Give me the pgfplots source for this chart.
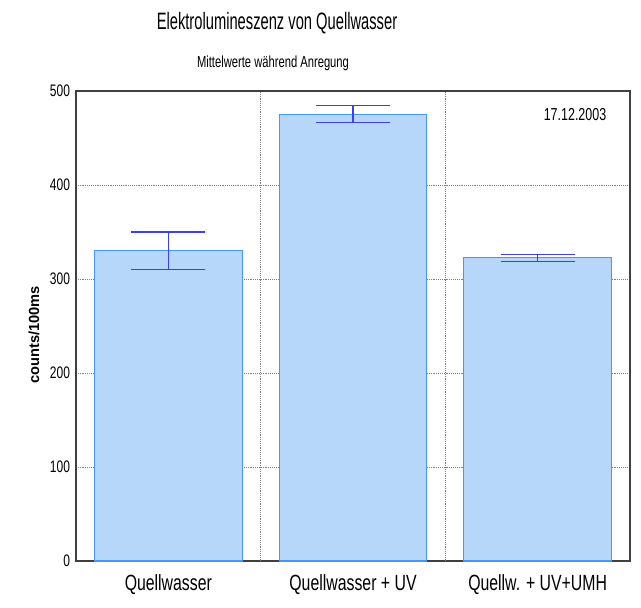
\documentclass[border=0pt]{standalone}
\usepackage{fontspec}
\setmainfont[FakeStretch=0.72]{Liberation Sans}
\newfontfamily\titlefont[FakeStretch=0.62]{Liberation Sans}
\newfontfamily\subfont[FakeStretch=0.70]{Liberation Sans}
\newfontfamily\plainsans{Liberation Sans}
\usepackage{pgfplots}
\pgfplotsset{compat=1.18}
\definecolor{barfill}{RGB}{182,214,250}
\definecolor{barline}{RGB}{70,150,255}
\definecolor{errc}{RGB}{60,60,255}
\begin{document}
\begin{tikzpicture}
\begin{axis}[
  at={(0,0)}, anchor=south west,
  scale only axis, width=415.5pt, height=352.5pt,
  xmin=-0.5, xmax=2.5, ymin=0, ymax=500,
  xtick={0,1,2},
  xticklabels={Quellwasser, Quellwasser + UV, Quellw. + UV+UMH},
  extra x ticks={0.5,1.5}, extra x tick labels={},
  extra x tick style={grid=major, major grid style={densely dotted, gray}},
  ytick={0,100,200,300,400,500},
  ymajorgrids, major grid style={densely dotted, gray},
  major tick length=0pt,
  axis line style={black!75, line width=0.8pt},
  x tick label style={font=\fontsize{16.5}{18}\selectfont, yshift=-7pt},
  y tick label style={font=\fontsize{12.5}{14}\selectfont, xshift=-1pt},
  /pgf/number format/assume math mode=true,
]
\addplot[ybar, bar width=0.8, fill=barfill, draw=barline, line width=0.8pt,
  error bars/.cd, y dir=both, y explicit,
  error bar style={errc, line width=0.9pt},
  error mark options={errc, rotate=90, mark size=27.75pt, line width=0.9pt}]
  coordinates {(0,330) +- (0,20) (1,475.5) +- (0,9) (2,322.5) +- (0,3.5)};
\end{axis}
\node[font=\titlefont\fontsize{17.8}{20}\selectfont] at (150.75pt,403.5pt) {Elektrolumineszenz von Quellwasser};
\node[font=\subfont\fontsize{12}{14}\selectfont] at (147.75pt,373.5pt) {Mittelwerte während Anregung};
\node[font=\fontsize{13}{15}\selectfont] at (374.25pt,334.5pt) {17.12.2003};
\node[font=\plainsans\bfseries\fontsize{11}{13}\selectfont, rotate=90] at (-31.5pt,169.5pt) {counts/100ms};
\pgfresetboundingbox
\path[use as bounding box] (-57pt,-34.5pt) rectangle (423.75pt,420.75pt);
\end{tikzpicture}
\end{document}
